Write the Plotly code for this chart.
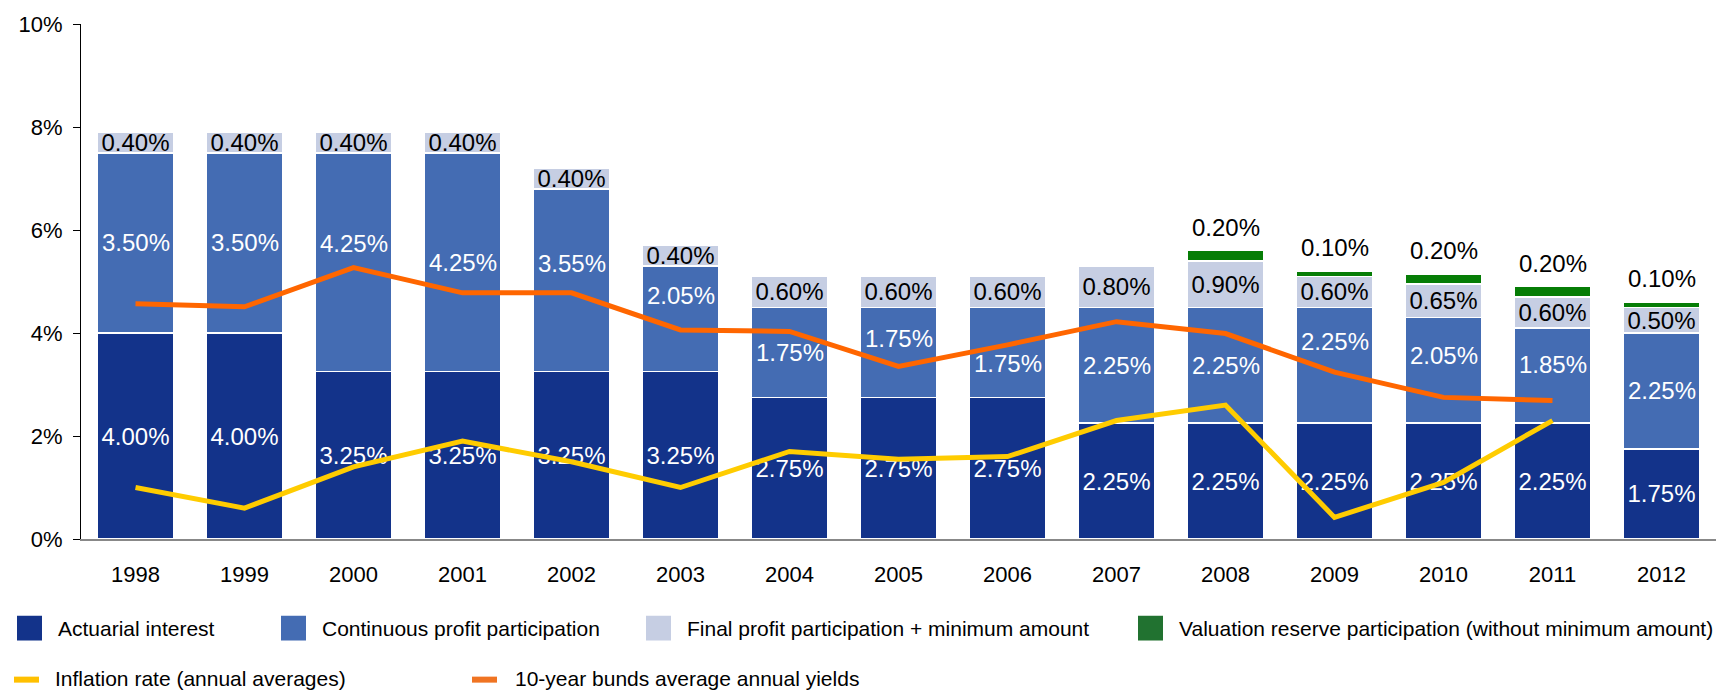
import plotly.graph_objects as go

years = ["1998", "1999", "2000", "2001", "2002", "2003", "2004", "2005",
         "2006", "2007", "2008", "2009", "2010", "2011", "2012"]
actuarial = [4.00, 4.00, 3.25, 3.25, 3.25, 3.25, 2.75, 2.75, 2.75, 2.25, 2.25, 2.25, 2.25, 2.25, 1.75]
continuous = [3.50, 3.50, 4.25, 4.25, 3.55, 2.05, 1.75, 1.75, 1.75, 2.25, 2.25, 2.25, 2.05, 1.85, 2.25]
final = [0.40, 0.40, 0.40, 0.40, 0.40, 0.40, 0.60, 0.60, 0.60, 0.80, 0.90, 0.60, 0.65, 0.60, 0.50]
valuation = [None, None, None, None, None, None, None, None, None, None, 0.20, 0.10, 0.20, 0.20, 0.10]
inflation = [1.0, 0.6, 1.4, 1.9, 1.5, 1.0, 1.7, 1.55, 1.6, 2.3, 2.6, 0.42, 1.1, 2.3, None]
bunds = [4.57, 4.51, 5.27, 4.78, 4.78, 4.06, 4.03, 3.35, 3.77, 4.22, 3.99, 3.24, 2.75, 2.69, None]

legend_bar_names = ["Actuarial interest", "Continuous profit participation",
                    "Final profit participation + minimum amount",
                    "Valuation reserve participation (without minimum amount)"]
legend_line_names = ["Inflation rate (annual averages)", "10-year bunds average annual yields"]

# label nudges (pixels, style only) for the continuous-participation labels
cont_label_nudge = [0, 0, 19, 0, 17, 23, 0, 14, -11, 0, 0, 24, 15, 11, 0]

C_ACT = "#13338A"
C_CONT = "#446CB3"
C_FIN = "#C6CEE3"
C_VAL = "#067D06"
C_VAL_LEG = "#217230"
C_INF = "#FFCC00"
C_BUND = "#FF6600"

FONT = "Liberation Sans, Arial, Helvetica, sans-serif"
LBL = 24
W, H = 1731, 693
L, R, T, B = 81, 1716, 19, 539

def px(xp):
    return (xp - L) / (R - L)

def py(yp):
    return (B - yp) / (B - T)

fig = go.Figure()

def bar(vals, color, txtcolor, name, show_text=True):
    if show_text:
        kw = dict(texttemplate="%{y:.2f}%", textposition="inside", insidetextanchor="middle",
                  textangle=0, constraintext="none",
                  textfont=dict(color=txtcolor, size=LBL, family=FONT))
    else:
        kw = dict(textposition="none")
    fig.add_trace(go.Bar(
        x=years, y=vals, name=name, marker=dict(color=color, line=dict(color="white", width=1.5)),
        showlegend=False, hoverinfo="skip", **kw))

bar(actuarial, C_ACT, "white", legend_bar_names[0])
bar(continuous, C_CONT, "white", legend_bar_names[1], show_text=False)
bar(final, C_FIN, "black", legend_bar_names[2])
bar(valuation, C_VAL, "black", legend_bar_names[3], show_text=False)

fig.add_trace(go.Scatter(x=years, y=inflation, mode="lines", name=legend_line_names[0],
                         line=dict(color=C_INF, width=5), showlegend=False))
fig.add_trace(go.Scatter(x=years, y=bunds, mode="lines", name=legend_line_names[1],
                         line=dict(color=C_BUND, width=5), showlegend=False))

annotations = []
for i, yr in enumerate(years):
    mid = actuarial[i] + continuous[i] / 2
    annotations.append(dict(x=i, y=mid, xref="x", yref="y", text=f"{continuous[i]:.2f}%",
                            showarrow=False, yanchor="middle", yshift=cont_label_nudge[i],
                            font=dict(size=LBL, color="white", family=FONT)))
    v = valuation[i]
    if v is None:
        continue
    total = actuarial[i] + continuous[i] + final[i] + v
    annotations.append(dict(x=i, y=total, xref="x", yref="y", text=f"{v:.2f}%",
                            showarrow=False, yanchor="bottom", yshift=8,
                            font=dict(size=LBL, color="black", family=FONT)))

shapes = []
sq_x = [17, 281, 646, 1138]
sq_txt = [56, 320, 685, 1177]
sq_col = [C_ACT, C_CONT, C_FIN, C_VAL_LEG]
row1 = 629
for xs, xt, c, name in zip(sq_x, sq_txt, sq_col, legend_bar_names):
    shapes.append(dict(type="rect", xref="paper", yref="paper",
                       x0=px(xs), x1=px(xs + 25), y0=py(row1 - 12.5), y1=py(row1 + 12.5),
                       fillcolor=c, line=dict(width=0)))
    annotations.append(dict(x=px(xt), y=py(row1), xref="paper", yref="paper", text=name,
                            showarrow=False, xanchor="left", yanchor="middle",
                            font=dict(size=21, color="black", family=FONT)))
ln_x = [14, 472]
ln_txt = [53, 513]
ln_col = ["#FFC000", "#F07422"]
row2 = 680
for xs, xt, c, name in zip(ln_x, ln_txt, ln_col, legend_line_names):
    shapes.append(dict(type="line", xref="paper", yref="paper",
                       x0=px(xs), x1=px(xs + 25), y0=py(row2 + 1), y1=py(row2 + 1),
                       line=dict(color=c, width=6)))
    annotations.append(dict(x=px(xt), y=py(row2), xref="paper", yref="paper", text=name,
                            showarrow=False, xanchor="left", yanchor="middle",
                            font=dict(size=21, color="black", family=FONT)))

fig.update_layout(
    width=W, height=H,
    margin=dict(l=L, r=W - R, t=T, b=H - B, pad=0),
    barmode="stack", bargap=0.30,
    plot_bgcolor="white", paper_bgcolor="white",
    font=dict(family=FONT, size=21, color="black"),
    annotations=annotations, shapes=shapes,
    showlegend=False,
)
fig.update_xaxes(type="category", range=[-0.5, 14.5], autorange=False,
                 showline=True, linecolor="#888888", linewidth=1.5,
                 ticks="outside", ticklen=15, tickcolor="rgba(0,0,0,0)",
                 tickfont=dict(size=22, family=FONT), showgrid=False, zeroline=False)
fig.update_yaxes(range=[0, 10], tickvals=[0, 2, 4, 6, 8, 10],
                 ticktext=["0%", "2%", "4%", "6%", "8%", "10%"],
                 showline=True, linecolor="black", linewidth=1,
                 ticks="outside", ticklen=7, tickcolor="black", ticklabelstandoff=6,
                 tickfont=dict(size=22, family=FONT), showgrid=False, zeroline=False)

fig.write_html("out.html", config={"displayModeBar": False},
               post_script="document.body.style.margin='0';")
